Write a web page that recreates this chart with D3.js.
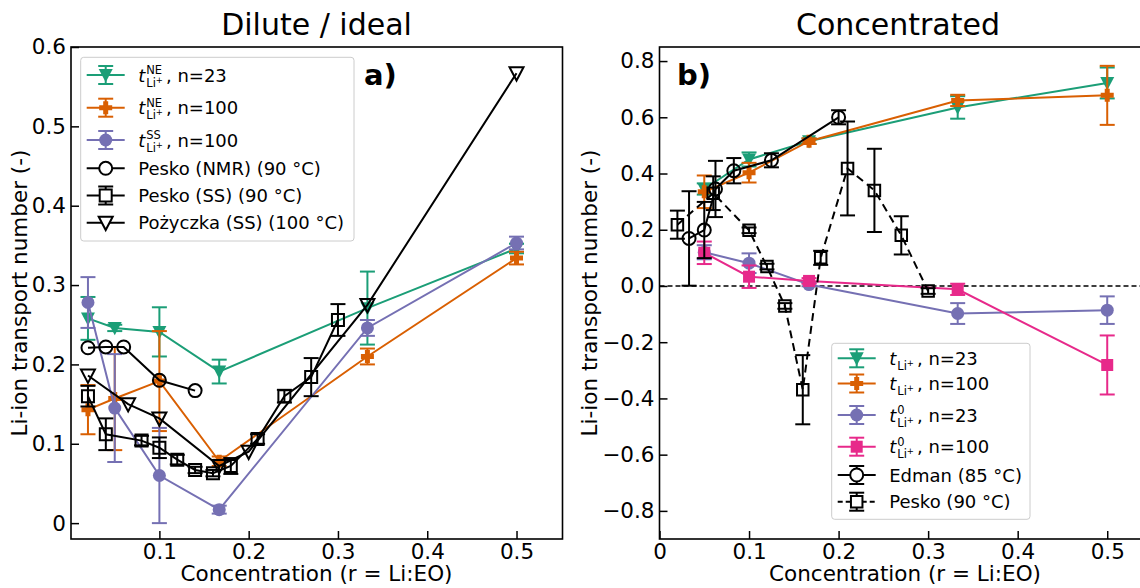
<!DOCTYPE html>
<html>
<head>
<meta charset="utf-8">
<title>Li-ion transport number</title>
<script src="https://cdn.jsdelivr.net/npm/d3@7"></script>
<style>
	body { margin: 0; background: white; }
	svg text { font-family: "DejaVu Sans", sans-serif; }
</style>
</head>
<body>
<div id="plot"></div>
<script>
// ---------- panel a) dilute / ideal ----------
var rA = [0.02, 0.05, 0.1, 0.167, 0.333, 0.5]
var tNE23 = [0.258, 0.246, 0.241, 0.191, 0.271, 0.346]
var eNE23 = [0.027, 0.004, 0.031, 0.015, 0.046, 0.006]
var tNE100 = [0.143, 0.157, 0.179, 0.078, 0.21, 0.334]
var eNE100 = [0.031, 0.065, 0.063, 0.006, 0.01, 0.008]
var tSS100 = [0.278, 0.145, 0.06, 0.017, 0.246, 0.353]
var eSS100 = [0.032, 0.068, 0.06, 0.005, 0.01, 0.008]

var rPeskoNMR = [0.02, 0.04, 0.06, 0.1, 0.14]
var tPeskoNMR = [0.221, 0.222, 0.222, 0.18, 0.167]

var rPeskoSS = [0.02, 0.04, 0.08, 0.1, 0.12, 0.14, 0.16, 0.18, 0.21, 0.24, 0.27, 0.3]
var tPeskoSS = [0.16, 0.112, 0.104, 0.095, 0.08, 0.067, 0.063, 0.072, 0.106, 0.16, 0.184, 0.256]
var ePeskoSS = [0.013, 0.02, 0.006, 0.013, 0.006, 0.004, 0.004, 0.01, 0.006, 0.008, 0.024, 0.02]

var rPoz = [0.02, 0.065, 0.1, 0.167, 0.2, 0.333, 0.5]
var tPoz = [0.186, 0.15, 0.132, 0.072, 0.09, 0.275, 0.567]

// ---------- panel b) concentrated ----------
var rB = [0.05, 0.1, 0.167, 0.333, 0.5]
var tB23 = [0.345, 0.45, 0.515, 0.635, 0.722]
var eB23 = [0.02, 0.025, 0.01, 0.04, 0.055]
var tB100 = [0.335, 0.403, 0.515, 0.66, 0.678]
var eB100 = [0.058, 0.035, 0.01, 0.02, 0.105]
var t0B23 = [0.12, 0.081, 0.005, -0.098, -0.086]
var e0B23 = [0.025, 0.035, 0.006, 0.037, 0.049]
var t0B100 = [0.118, 0.033, 0.018, -0.012, -0.281]
var e0B100 = [0.04, 0.04, 0.01, 0.02, 0.105]

var rEdman = [0.033, 0.05, 0.0625, 0.083, 0.125, 0.2]
var tEdman = [0.169, 0.199, 0.345, 0.41, 0.447, 0.6]
var eEdman = [0.168, 0.1, 0.1, 0.045, 0.025, 0.025]

var rPeskoB = [0.02, 0.06, 0.1, 0.12, 0.14, 0.16, 0.18, 0.21, 0.24, 0.27, 0.3]
var tPeskoB = [0.218, 0.33, 0.198, 0.069, -0.071, -0.369, 0.1, 0.418, 0.34, 0.18, -0.018]
var ePeskoB = [0.05, 0.06, 0.01, 0.01, 0.01, 0.123, 0.025, 0.167, 0.148, 0.068, 0.01]

// ticks
var xTicksA = [0.1, 0.2, 0.3, 0.4, 0.5]
var yTicksA = [0, 0.1, 0.2, 0.3, 0.4, 0.5, 0.6]
var xTicksB = [0, 0.1, 0.2, 0.3, 0.4, 0.5]
var yTicksB = [-0.8, -0.6, -0.4, -0.2, 0, 0.2, 0.4, 0.6, 0.8]

var green = '#1b9e77', orange = '#d95f02', purple = '#7570b3', pink = '#e7298a'
var fs = 21.5, cap = 7.5

var svg = d3.select('#plot').append('svg')
	.attr('width', 1140).attr('height', 588)

var xA = d3.scaleLinear().domain([0.001, 0.5515]).range([71, 562.5])
var yA = d3.scaleLinear().domain([-0.02, 0.6]).range([539, 47])
var xB = d3.scaleLinear().domain([0, 0.55]).range([659.5, 1152])
var yB = d3.scaleLinear().domain([-0.9, 0.85]).range([539, 47])

function markerPath(m, s){
	var h = s/2
	if (m == 'o') return d3.symbol(d3.symbolCircle, Math.PI*h*h)()
	if (m == 's') return 'M'+(-h)+','+(-h)+'H'+h+'V'+h+'H'+(-h)+'Z'
	if (m == 'v') return 'M'+(-h)+','+(-h*0.85)+'H'+h+'L0,'+(h*1.05)+'Z'
	if (m == 'P') {
		var a = h/2.6
		return 'M'+(-a)+','+(-h)+'H'+a+'V'+(-a)+'H'+h+'V'+a+'H'+a+'V'+h+'H'+(-a)+'V'+a+'H'+(-h)+'V'+(-a)+'H'+(-a)+'Z'
	}
}

function drawSeries(g, x, y, s){
	var pts = s.r.map(function(r, i){ return {r: r, t: s.t[i], e: s.e ? s.e[i] : 0} })
	var line = d3.line().x(function(d){return x(d.r)}).y(function(d){return y(d.t)})
	g.append('path').datum(pts)
		.attr('d', line)
		.attr('fill', 'none')
		.attr('stroke', s.color)
		.attr('stroke-width', 2)
		.attr('stroke-dasharray', s.dash || null)
	if (s.e) {
		var eb = g.append('g').attr('stroke', s.color).attr('stroke-width', 2)
		pts.forEach(function(d){
			var y0 = y(d.t - d.e), y1 = y(d.t + d.e), xc = x(d.r)
			eb.append('line').attr('x1', xc).attr('x2', xc).attr('y1', y0).attr('y2', y1)
			eb.append('line').attr('x1', xc-cap).attr('x2', xc+cap).attr('y1', y0).attr('y2', y0)
			eb.append('line').attr('x1', xc-cap).attr('x2', xc+cap).attr('y1', y1).attr('y2', y1)
		})
	}
	g.selectAll(null).data(pts).enter()
		.append('path')
		.attr('d', markerPath(s.m, s.size))
		.attr('transform', function(d){ return 'translate('+x(d.r)+','+y(d.t)+')' })
		.attr('fill', s.open ? 'none' : s.color)
		.attr('stroke', s.color)
		.attr('stroke-width', s.open ? 2 : 0)
}

function drawAxes(g, x, y, xt, yt, xf, yf){
	var gx = g.append('g')
		.attr('transform', 'translate(0,'+y.range()[0]+')')
		.call(d3.axisBottom(x).tickValues(xt).tickSize(-8).tickPadding(5).tickFormat(xf))
	var gy = g.append('g')
		.attr('transform', 'translate('+x.range()[0]+',0)')
		.call(d3.axisLeft(y).tickValues(yt).tickSize(-8).tickPadding(5).tickFormat(yf))
	;[gx, gy].forEach(function(a){
		a.select('.domain').remove()
		a.attr('font-size', fs).attr('font-family', '"DejaVu Sans", sans-serif')
		a.selectAll('.tick line').attr('stroke-width', 1.5)
		a.selectAll('.tick text').attr('fill', 'black')
	})
	g.append('rect')
		.attr('x', x.range()[0]).attr('y', y.range()[1])
		.attr('width', x.range()[1]-x.range()[0]).attr('height', y.range()[0]-y.range()[1])
		.attr('fill', 'none').attr('stroke', 'black').attr('stroke-width', 1.6)
}

function fmt(d){ return d === 0 ? '0' : d3.format('.1f')(d) }

// ---- legend helpers
function mathLabel(g, x, y, sup, suffix){
	var t = g.append('text').attr('x', x).attr('y', y).attr('font-size', 18)
		.attr('font-style', 'italic').text('t')
	var tw = t.node().getComputedTextLength() + 1
	var supW = 0
	if (sup) {
		var st = g.append('text').attr('x', x+tw).attr('y', y-7.5).attr('font-size', 11.5).text(sup)
		supW = st.node().getComputedTextLength()
	}
	var sb = g.append('text').attr('x', x+tw).attr('y', y+5).attr('font-size', 11.5)
	sb.append('tspan').text('Li')
	sb.append('tspan').attr('dy', -4).attr('font-size', 8.5).text('+')
	var subW = sb.node().getComputedTextLength()
	g.append('text').attr('x', x+tw+Math.max(supW, subW)+3).attr('y', y).attr('font-size', 18).text(suffix)
}

function drawLegend(g, box, rows, entries){
	g.append('rect')
		.attr('x', box[0]).attr('y', box[1]).attr('width', box[2]).attr('height', box[3])
		.attr('rx', 3).attr('fill', 'white').attr('fill-opacity', 0.8)
		.attr('stroke', '#cccccc').attr('stroke-width', 1)
	var hx0 = box[0]+6, hx1 = box[0]+44, hc = (hx0+hx1)/2
	entries.forEach(function(s, i){
		var cy = rows[i]
		g.append('line').attr('x1', hx0).attr('x2', hx1).attr('y1', cy).attr('y2', cy)
			.attr('stroke', s.color).attr('stroke-width', 2).attr('stroke-dasharray', s.dash ? '5,3' : null)
		if (s.e) {
			var eb = g.append('g').attr('stroke', s.color).attr('stroke-width', 2)
			eb.append('line').attr('x1', hc).attr('x2', hc).attr('y1', cy-9).attr('y2', cy+9)
			eb.append('line').attr('x1', hc-cap).attr('x2', hc+cap).attr('y1', cy-9).attr('y2', cy-9)
			eb.append('line').attr('x1', hc-cap).attr('x2', hc+cap).attr('y1', cy+9).attr('y2', cy+9)
		}
		g.append('path').attr('d', markerPath(s.m, s.size))
			.attr('transform', 'translate('+hc+','+cy+')')
			.attr('fill', s.open ? 'white' : s.color)
			.attr('stroke', s.color).attr('stroke-width', s.open ? 2 : 0)
		var tx = box[0]+57.5, ty = cy+6.5
		if (s.math) mathLabel(g, tx, ty, s.sup, s.label)
		else g.append('text').attr('x', tx).attr('y', ty).attr('font-size', 18).text(s.label)
	})
}

// ================= panel a =================
var ga = svg.append('g')
var seriesA = [
	{r: rA, t: tNE23, e: eNE23, color: green, m: 'v', size: 14, math: true, sup: 'NE', label: ', n=23'},
	{r: rA, t: tNE100, e: eNE100, color: orange, m: 'P', size: 13, math: true, sup: 'NE', label: ', n=100'},
	{r: rA, t: tSS100, e: eSS100, color: purple, m: 'o', size: 13, math: true, sup: 'SS', label: ', n=100'},
	{r: rPeskoNMR, t: tPeskoNMR, color: 'black', m: 'o', size: 13, open: true, label: 'Pesko (NMR) (90 °C)'},
	{r: rPeskoSS, t: tPeskoSS, e: ePeskoSS, color: 'black', m: 's', size: 12, open: true, label: 'Pesko (SS) (90 °C)'},
	{r: rPoz, t: tPoz, color: 'black', m: 'v', size: 14, open: true, label: 'Pożyczka (SS) (100 °C)'}
]
drawAxes(ga, xA, yA, xTicksA, yTicksA, fmt, fmt)
seriesA.forEach(function(s){ drawSeries(ga, xA, yA, s) })
drawLegend(ga, [80.7, 57.3, 273.3, 183.7], [75, 107.7, 140, 168.3, 195.5, 222.7], seriesA)

ga.append('text').attr('x', 316.5).attr('y', 35).attr('text-anchor', 'middle')
	.attr('font-size', 30).text('Dilute / ideal')
ga.append('text').attr('x', 364).attr('y', 85).attr('font-size', 29).attr('font-weight', 'bold').text('a)')
ga.append('text').attr('x', 316.5).attr('y', 581).attr('text-anchor', 'middle')
	.attr('font-size', fs).text('Concentration (r = Li:EO)')
ga.append('text').attr('transform', 'translate(27,293) rotate(-90)').attr('text-anchor', 'middle')
	.attr('font-size', fs).text('Li-ion transport number (-)')

// ================= panel b =================
var gb = svg.append('g')
var seriesB = [
	{r: rB, t: tB23, e: eB23, color: green, m: 'v', size: 14, math: true, sup: null, label: ', n=23'},
	{r: rB, t: tB100, e: eB100, color: orange, m: 'P', size: 13, math: true, sup: null, label: ', n=100'},
	{r: rB, t: t0B23, e: e0B23, color: purple, m: 'o', size: 13, math: true, sup: '0', label: ', n=23'},
	{r: rB, t: t0B100, e: e0B100, color: pink, m: 's', size: 12, math: true, sup: '0', label: ', n=100'},
	{r: rEdman, t: tEdman, e: eEdman, color: 'black', m: 'o', size: 13, open: true, label: 'Edman (85 °C)'},
	{r: rPeskoB, t: tPeskoB, e: ePeskoB, color: 'black', m: 's', size: 11.5, open: true, dash: '8,5', label: 'Pesko (90 °C)'}
]
drawAxes(gb, xB, yB, xTicksB, yTicksB, fmt, function(d){ return d3.format('.1f')(d) })
gb.append('line')
	.attr('x1', xB.range()[0]).attr('x2', xB.range()[1])
	.attr('y1', yB(0)).attr('y2', yB(0))
	.attr('stroke', 'black').attr('stroke-width', 1.5).attr('stroke-dasharray', '5,3')
seriesB.forEach(function(s){ drawSeries(gb, xB, yB, s) })
drawLegend(gb, [831.7, 343.3, 198.3, 176], [358.3, 383.5, 415, 446.7, 475, 501.7], seriesB)

gb.append('text').attr('x', 898).attr('y', 35).attr('text-anchor', 'middle')
	.attr('font-size', 30).text('Concentrated')
gb.append('text').attr('x', 677).attr('y', 85).attr('font-size', 29).attr('font-weight', 'bold').text('b)')
gb.append('text').attr('x', 905).attr('y', 581).attr('text-anchor', 'middle')
	.attr('font-size', fs).text('Concentration (r = Li:EO)')
gb.append('text').attr('transform', 'translate(597,293) rotate(-90)').attr('text-anchor', 'middle')
	.attr('font-size', fs).text('Li-ion transport number (-)')
</script>
</body>
</html>
